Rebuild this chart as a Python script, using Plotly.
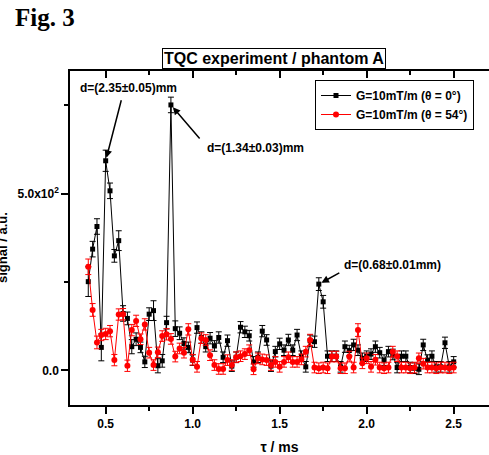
import plotly.graph_objects as go

tau = [round(0.4 + 0.025 * i, 3) for i in range(85)]

black_y = [251, 343, 407, 65, 593, 508, 324, 367, 161, 147,
           67, 88, 65, 24, 159, 169, 13, 27, 135, 751,
           118, 105, 76, 65, 29, 121, 93, 67, 91, 69,
           93, 37, 84, 12, 37, 122, 109, 98, 24, 37,
           111, 86, 12, 53, 75, 57, 86, 57, 100, 40,
           10, 84, 81, 244, 194, 40, 40, 40, 10, 67,
           56, 72, 57, 34, 40, 46, 67, 50, 29, 53,
           45, 8, 40, 40, 8, 6, 3, 72, 29, 40,
           10, 10, 78, 10, 24]
black_err = [42, 22, 22, 38, 30, 22, 18, 28, 22, 18,
             20, 18, 15, 16, 18, 28, 20, 18, 18, 22,
             22, 18, 16, 15, 15, 16, 16, 15, 16, 15,
             16, 15, 16, 15, 15, 16, 16, 15, 15, 15,
             16, 15, 15, 15, 16, 15, 16, 15, 16, 15,
             15, 16, 16, 18, 18, 15, 15, 15, 15, 16,
             15, 16, 15, 15, 15, 15, 16, 15, 15, 15,
             15, 15, 15, 15, 15, 15, 15, 16, 15, 15,
             15, 15, 16, 15, 15]

red_y = [293, 171, 79, 100, 103, 111, 29, 158, 159, 13,
         114, 140, 88, 130, 50, 15, 51, 97, 102, 89,
         39, 62, 50, 116, 30, 10, 91, 86, 43, 15,
         4, 4, 29, 15, 37, 40, 46, 57, 3, 34,
         31, 29, 15, 24, 10, 24, 37, 24, 24, 31,
         53, 86, 8, 6, 8, 6, 39, 39, 6, 6,
         39, 8, 114, 20, 34, 10, 30, 8, 6, 8,
         53, 40, 8, 8, 6, 8, 34, 19, 8, 8,
         6, 8, 8, 6, 8]
red_err = [22, 18, 18, 16, 16, 16, 16, 16, 16, 16,
           16, 16, 15, 16, 15, 15, 15, 15, 16, 15,
           15, 15, 15, 16, 15, 15, 15, 15, 15, 15,
           15, 15, 15, 15, 15, 15, 15, 15, 15, 15,
           15, 15, 15, 15, 15, 15, 15, 15, 15, 15,
           15, 16, 15, 15, 15, 15, 15, 15, 15, 15,
           15, 15, 18, 15, 15, 15, 15, 15, 15, 15,
           15, 15, 15, 15, 15, 15, 15, 15, 15, 15,
           15, 15, 15, 15, 15]

x_ticks = [0.5, 1.0, 1.5, 2.0, 2.5]
x_ticktext = ["0.5", "1.0", "1.5", "2.0", "2.5"]
y_ticks = [0, 500]
y_ticktext = ["0.0", "5.0x10<sup>2</sup>"]

series_names = ["G=10mT/m (\u03b8 = 0\u00b0)", "G=10mT/m (\u03b8 = 54\u00b0)"]

FONT = "Liberation Sans, Arial, sans-serif"
W, H = 489, 455
ML, MR, MT, MB = 70, 0, 71, 50
XR = [0.295, 2.703]
YR = [-98, 847]


def px_to_x(px):
    return XR[0] + (px - ML) / (W - ML - MR) * (XR[1] - XR[0])


def py_to_y(py):
    return YR[1] - (py - MT) / (H - MT - MB) * (YR[1] - YR[0])


fig = go.Figure()
fig.add_trace(go.Scatter(
    x=tau, y=black_y, mode="lines+markers", name=series_names[0],
    line=dict(color="black", width=1),
    marker=dict(symbol="square", size=5, color="black"),
    error_y=dict(type="data", array=black_err, color="black", thickness=1, width=3),
))
fig.add_trace(go.Scatter(
    x=tau, y=red_y, mode="lines+markers", name=series_names[1],
    line=dict(color="red", width=1),
    marker=dict(symbol="circle", size=6, color="red"),
    error_y=dict(type="data", array=red_err, color="red", thickness=1, width=3),
))
fig.add_trace(go.Scatter(x=[None], y=[None], xaxis="x2", showlegend=False, hoverinfo="skip"))

bold = dict(family=FONT, size=12, color="black", weight="bold")

fig.update_layout(
    width=W, height=H,
    margin=dict(l=ML, r=MR, t=MT, b=MB),
    paper_bgcolor="white", plot_bgcolor="white",
    showlegend=True,
    legend=dict(
        x=(315 - ML) / (W - ML - MR), y=(H - MB - 80) / (H - MT - MB),
        xanchor="left", yanchor="top",
        bordercolor="black", borderwidth=1, bgcolor="white",
        font=dict(family=FONT, size=12, color="black", weight="bold"),
        itemwidth=30, tracegroupgap=0,
    ),
    xaxis=dict(
        range=XR, showgrid=False, zeroline=False,
        showline=True, linecolor="black", linewidth=1.5,
        ticks="outside", ticklen=7, tickwidth=1.5, tickcolor="black",
        tickvals=x_ticks, ticktext=x_ticktext,
        tickfont=bold,
        minor=dict(ticks="outside", ticklen=4, tickwidth=1.5, tickcolor="black", dtick=0.25, tick0=0.5),
        title=dict(text="\u03c4 / ms", font=dict(family=FONT, size=14, color="black", weight="bold"), standoff=12),
    ),
    xaxis2=dict(
        range=XR, overlaying="x", side="top", anchor="y",
        showgrid=False, zeroline=False,
        showline=True, linecolor="black", linewidth=1.5,
        ticks="inside", ticklen=7, tickwidth=1.5, tickcolor="black",
        tickvals=x_ticks, showticklabels=False,
        minor=dict(ticks="inside", ticklen=4, tickwidth=1.5, tickcolor="black", dtick=0.25, tick0=0.5),
    ),
    yaxis=dict(
        range=YR, showgrid=False, zeroline=False,
        showline=True, linecolor="black", linewidth=1.5,
        ticks="outside", ticklen=7, tickwidth=1.5, tickcolor="black",
        tickvals=y_ticks, ticktext=y_ticktext,
        tickfont=bold,
        minor=dict(ticks="outside", ticklen=4, tickwidth=1.5, tickcolor="black", tickvals=[250, 750]),
    ),
)

ann_font = dict(family=FONT, size=12, color="black", weight="bold")
annotations = [
    dict(text="Fig. 3", xref="paper", yref="paper",
         x=(13 - ML) / (W - ML - MR), y=(H - MB - 18) / (H - MT - MB),
         xanchor="left", yanchor="middle", showarrow=False,
         font=dict(family="Liberation Serif, Times New Roman, serif", size=25, color="black", weight="bold")),
    dict(text="TQC experiment / phantom A", xref="paper", yref="paper",
         x=(273.5 - ML) / (W - ML - MR), y=(H - MB - 58.5) / (H - MT - MB),
         xanchor="center", yanchor="middle", showarrow=False,
         bordercolor="black", borderwidth=1, borderpad=1, bgcolor="white",
         font=dict(family=FONT, size=16, color="black", weight="bold")),
    dict(text="signal / a.u.", xref="paper", yref="paper",
         x=(2 - ML) / (W - ML - MR), y=(H - MB - 248) / (H - MT - MB),
         xanchor="center", yanchor="middle", textangle=-90, showarrow=False,
         font=dict(family=FONT, size=13, color="black", weight="bold")),
    # peak labels
    dict(text="d=(2.35\u00b10.05)mm", x=px_to_x(128), y=py_to_y(88), showarrow=False, font=ann_font),
    dict(text="d=(1.34\u00b10.03)mm", x=px_to_x(255), y=py_to_y(148), showarrow=False, font=ann_font),
    dict(text="d=(0.68\u00b10.01mm)", x=px_to_x(392), y=py_to_y(265), showarrow=False, font=ann_font),
    # arrows
    dict(text="", x=tau[4], y=black_y[4], ax=16, ay=-62, showarrow=True,
         arrowhead=2, arrowsize=1, arrowwidth=1.5, arrowcolor="black", standoff=3),
    dict(text="", x=tau[19], y=black_y[19], ax=30, ay=35, showarrow=True,
         arrowhead=2, arrowsize=1, arrowwidth=1.5, arrowcolor="black", standoff=3),
    dict(text="", x=tau[53], y=black_y[53], ax=22, ay=-12, showarrow=True,
         arrowhead=2, arrowsize=1, arrowwidth=1.5, arrowcolor="black", standoff=3),
]
fig.update_layout(annotations=annotations)

fig.write_html(
    "out.html",
    config={"displayModeBar": False},
    post_script="document.body.style.margin='0';document.body.style.padding='0';"
                "document.documentElement.style.overflow='hidden';",
)
